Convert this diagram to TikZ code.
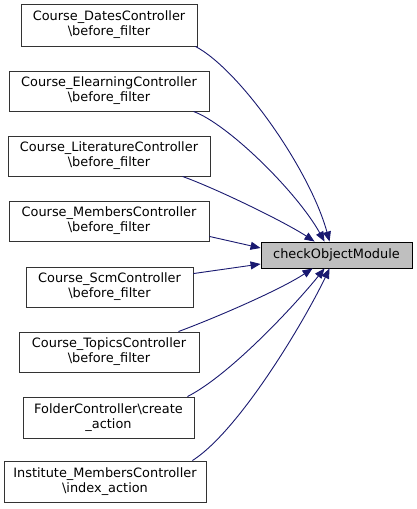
\documentclass[tikz,border=0pt]{standalone}
\usepackage{fontspec}
\setmainfont{DejaVu Sans}
\usetikzlibrary{arrows.meta,calc}
\definecolor{edgecol}{HTML}{191970}
\definecolor{hlfill}{HTML}{BFBFBF}
\tikzset{
  fnbox/.style={draw=black!80, line width=0.9pt, inner sep=0pt, align=center, font=\fontsize{12.9}{15}\selectfont},
  hlbox/.style={fnbox, fill=hlfill, draw=black},
  callarrow/.style={draw=edgecol, line width=0.9pt, -{Triangle[length=10pt,width=8pt]}}
}
\begin{document}
\begin{tikzpicture}[x=1pt,y=-1pt]
\useasboundingbox (0,0) rectangle (417,509);
\node[fnbox, minimum width=176, minimum height=42] (n1) at (109,25) {Course\_DatesController\\\textbackslash{}before\_filter};
\node[fnbox, minimum width=200, minimum height=40] (n2) at (109,91) {Course\_ElearningController\\\textbackslash{}before\_filter};
\node[fnbox, minimum width=202, minimum height=40] (n3) at (109,156) {Course\_LiteratureController\\\textbackslash{}before\_filter};
\node[fnbox, minimum width=200, minimum height=40] (n4) at (109,221) {Course\_MembersController\\\textbackslash{}before\_filter};
\node[fnbox, minimum width=167, minimum height=40] (n5) at (109.5,287) {Course\_ScmController\\\textbackslash{}before\_filter};
\node[fnbox, minimum width=180, minimum height=40] (n6) at (109,352) {Course\_TopicsController\\\textbackslash{}before\_filter};
\node[fnbox, minimum width=171, minimum height=41] (n7) at (108.5,417.5) {FolderController\textbackslash{}create\\\_action};
\node[fnbox, minimum width=202, minimum height=41] (n8) at (105,481.5) {Institute\_MembersController\\\textbackslash{}index\_action};
\node[hlbox, minimum width=151, minimum height=26] (t) at (336.5,255) {checkObjectModule};

\draw[callarrow] ($(n1.south east)+(-2,0)$) .. controls (240,70) and (310,170) .. ($(t.north west)+(69,0)$);
\draw[callarrow] ($(n2.south east)+(-16,0)$) .. controls (228,124) and (297,192) .. ($(t.north west)+(64,0)$);
\draw[callarrow] ($(n3.south east)+(-28,0)$) .. controls (215,188) and (285,222) .. ($(t.north west)+(54,0)$);
\draw[callarrow] ($(n4.south east)+(0,-5)$) -- ($(t.west)+(0,-7)$);
\draw[callarrow] ($(n5.north east)+(0,7)$) -- ($(t.west)+(0,9)$);
\draw[callarrow] ($(n6.north east)+(-21,0)$) .. controls (215,318) and (280,290) .. ($(t.south west)+(52,0)$);
\draw[callarrow] ($(n7.north east)+(-7,0)$) .. controls (230,375) and (295,305) .. ($(t.south west)+(64,0)$);
\draw[callarrow] ($(n8.north east)+(-14,0)$) .. controls (240,430) and (305,320) .. ($(t.south west)+(69,0)$);
\end{tikzpicture}
\end{document}
